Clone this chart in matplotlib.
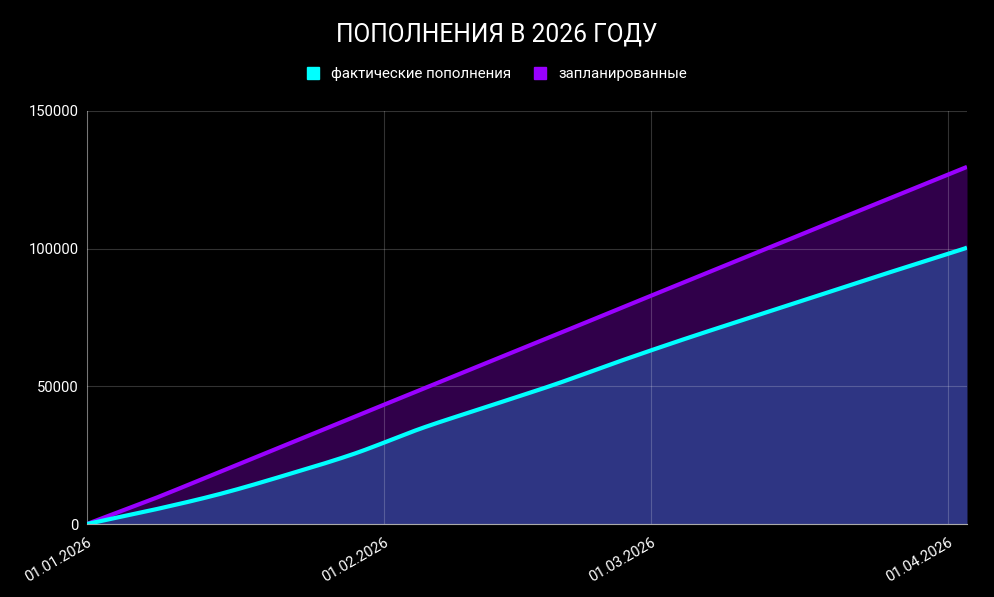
import numpy as np
import pandas as pd
import matplotlib
matplotlib.use("Agg")
import matplotlib.pyplot as plt
import matplotlib.dates as mdates
from matplotlib.ticker import FixedLocator
from matplotlib.patches import Patch

dates = ["01.01.2026", "08.01.2026", "15.01.2026", "22.01.2026", "29.01.2026",
         "05.02.2026", "12.02.2026", "19.02.2026", "26.02.2026", "05.03.2026",
         "12.03.2026", "19.03.2026", "26.03.2026", "02.04.2026", "03.04.2026"]
actual = [0, 5200, 11000, 18000, 25600, 34800, 42800, 50800, 59500, 67800,
          75700, 83600, 91500, 99200, 100400]
planned = [0, 9200, 19100, 29000, 39000, 48900, 58800, 68700, 78700, 88600,
           98500, 108500, 118400, 128300, 129700]
tick_dates = ["01.01.2026", "01.02.2026", "01.03.2026", "01.04.2026"]
y_ticks = [0, 50000, 100000, 150000]


def smooth(xs, ys, n=20):
    # catmull-rom, как сглаживание линий в chart.js
    xs = np.asarray(xs, float)
    ys = np.asarray(ys, float)
    px = np.concatenate([[2 * xs[0] - xs[1]], xs, [2 * xs[-1] - xs[-2]]])
    py = np.concatenate([[2 * ys[0] - ys[1]], ys, [2 * ys[-1] - ys[-2]]])
    outx, outy = [], []
    t = np.linspace(0, 1, n, endpoint=False)
    for i in range(1, len(px) - 2):
        for arr, out in ((px, outx), (py, outy)):
            p0, p1, p2, p3 = arr[i - 1:i + 3]
            out.extend(0.5 * ((2 * p1) + (-p0 + p2) * t
                              + (2 * p0 - 5 * p1 + 4 * p2 - p3) * t ** 2
                              + (-p0 + 3 * p1 - 3 * p2 + p3) * t ** 3))
    outx.append(xs[-1])
    outy.append(ys[-1])
    return np.array(outx), np.array(outy)


x = mdates.date2num(pd.to_datetime(dates, format="%d.%m.%Y"))
xt = mdates.date2num(pd.to_datetime(tick_dates, format="%d.%m.%Y"))

sx, s_act = smooth(x, actual)
_, s_plan = smooth(x, planned)

plt.rcParams['font.family'] = ['Roboto', 'DejaVu Sans']

fig = plt.figure(figsize=(9.94, 5.97), dpi=100, facecolor="black")
ax = fig.add_axes([87 / 994, 1 - 524 / 597, (967 - 87) / 994, 413 / 597])
ax.set_facecolor("black")

cyan = "#00ffff"
purple = "#9900ff"

ax.fill_between(sx, 0, s_act, color="#2e3583", lw=0, zorder=1)
ax.fill_between(sx, s_act, s_plan, color="#30004a", lw=0, zorder=1)
ax.plot(sx, s_plan, color=purple, lw=3, zorder=4, solid_capstyle="butt")
ax.plot(sx, s_act, color=cyan, lw=3, zorder=4, solid_capstyle="butt")

ax.set_xlim(x[0], x[-1])
ax.set_ylim(0, 150000)
ax.xaxis.set_major_locator(FixedLocator(xt))
ax.set_xticklabels(tick_dates, rotation=30, ha="right", rotation_mode="anchor",
                   color="white", fontsize=10.6)
ax.set_yticks(y_ticks)
ax.set_yticklabels([str(v) for v in y_ticks], color="white", fontsize=10.6)
ax.tick_params(length=0, pad=6)
ax.tick_params(axis="x", pad=8)

ax.grid(True, color="white", alpha=0.2, lw=0.8, zorder=2)
ax.set_axisbelow(False)
for s in ["top", "right"]:
    ax.spines[s].set_visible(False)
ax.spines["left"].set_color("#555555")
ax.spines["bottom"].set_color("#aaaaaa")
ax.spines["bottom"].set_zorder(5)

fig.text(0.5, 1 - 35 / 597, "ПОПОЛНЕНИЯ В 2026 ГОДУ", color="white",
         fontsize=17.7, ha="center", va="center")

patches = [Patch(facecolor=cyan, edgecolor=cyan), Patch(facecolor=purple, edgecolor=purple)]
fig.legend(patches, ["фактические пополнения", "запланированные"],
           loc="center", bbox_to_anchor=(0.5, 1 - 74 / 597), ncol=2,
           frameon=False, labelcolor="white", prop={"size": 10.8},
           handlelength=0.8, handleheight=0.8, handletextpad=0.8,
           columnspacing=1.5)

fig.savefig("out.png", dpi=100, facecolor="black")
